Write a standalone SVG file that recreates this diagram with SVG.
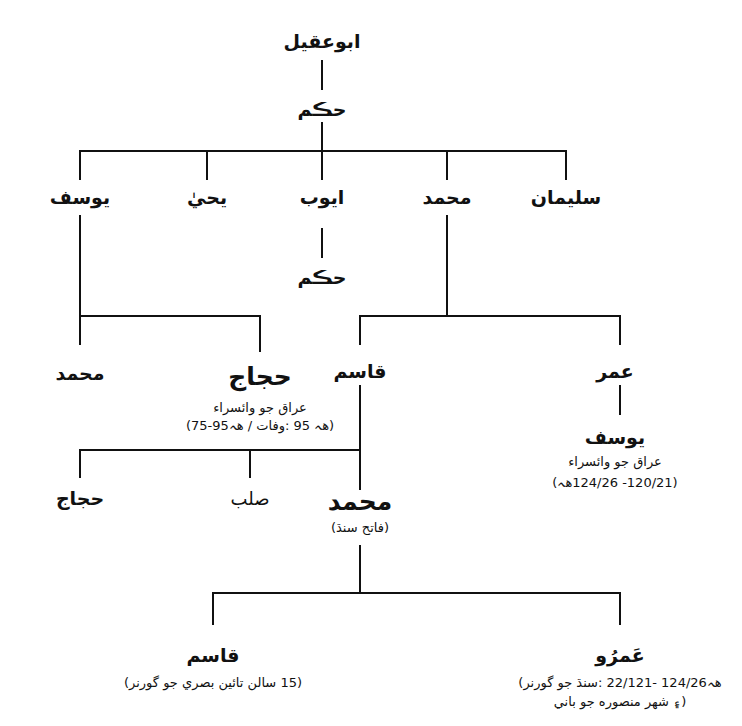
<svg xmlns="http://www.w3.org/2000/svg" width="742" height="726" viewBox="0 0 742 726">
<style>
text{font-family:"DejaVu Sans","Noto Sans",sans-serif;text-anchor:middle;fill:#111;direction:rtl;unicode-bidi:embed}
.b{font-weight:bold;font-size:19px}
.n{font-size:18px}
.L{font-weight:bold;font-size:25px}
.s{font-size:13px}
.ltr{direction:ltr}
#c line{stroke:#111;stroke-width:2}
</style>
<rect width="742" height="726" fill="#fff"/>
<g id="c">
<line x1="322" y1="60" x2="322" y2="90"/>
<line x1="322" y1="122" x2="322" y2="151"/>
<line x1="79" y1="151" x2="567" y2="151"/>
<line x1="80" y1="150" x2="80" y2="180"/>
<line x1="207" y1="150" x2="207" y2="180"/>
<line x1="322" y1="150" x2="322" y2="180"/>
<line x1="447" y1="150" x2="447" y2="180"/>
<line x1="566" y1="150" x2="566" y2="180"/>
<line x1="322" y1="228" x2="322" y2="258"/>
<line x1="80" y1="215" x2="80" y2="345"/>
<line x1="79" y1="316" x2="261" y2="316"/>
<line x1="260" y1="316" x2="260" y2="352"/>
<line x1="447" y1="215" x2="447" y2="316"/>
<line x1="359" y1="316" x2="621" y2="316"/>
<line x1="360" y1="316" x2="360" y2="345"/>
<line x1="620" y1="316" x2="620" y2="345"/>
<line x1="620" y1="385" x2="620" y2="415"/>
<line x1="360" y1="385" x2="360" y2="490"/>
<line x1="79" y1="450" x2="361" y2="450"/>
<line x1="80" y1="450" x2="80" y2="478"/>
<line x1="250" y1="450" x2="250" y2="478"/>
<line x1="360" y1="545" x2="360" y2="593"/>
<line x1="212" y1="593" x2="621" y2="593"/>
<line x1="213" y1="593" x2="213" y2="625"/>
<line x1="620" y1="593" x2="620" y2="625"/>
</g>
<g id="n1"><text class="b" x="322" y="48">ابوعقيل</text></g>
<g id="n2"><text class="b" x="322" y="116">حڪم</text></g>
<g id="n3"><text class="b" x="80" y="204">يوسف</text></g>
<g id="n4"><text class="b" x="207" y="204">يحيٰ</text></g>
<g id="n5"><text class="b" x="322" y="204">ايوب</text></g>
<g id="n6"><text class="b" x="447" y="204">محمد</text></g>
<g id="n7"><text class="b" x="566" y="204">سليمان</text></g>
<g id="n8"><text class="b" x="322" y="284">حڪم</text></g>
<g id="n9"><text class="b" x="80" y="380">محمد</text></g>
<g id="n10"><text class="L" x="260" y="385">حجاج</text><text class="s" x="260" y="412">عراق جو وائسراء</text><text class="s ltr" x="260" y="430">(75-95&#x2067;هہ&#x2069; / &#x2067;وفات&#x2069;: 95 &#x2067;هہ&#x2069;)</text></g>
<g id="n11"><text class="b" x="360" y="378">قاسم</text></g>
<g id="n12"><text class="b" x="615" y="378">عمر</text></g>
<g id="n13"><text class="b" x="615" y="444">يوسف</text><text class="s" x="615" y="466">عراق جو وائسراء</text><text class="s" x="615" y="487">(120/21- 124/26هہ)</text></g>
<g id="n14"><text class="b" x="80" y="505">حجاج</text></g>
<g id="n15"><text class="n" x="250" y="505">صلب</text></g>
<g id="n16"><text class="L" x="360" y="510">محمد</text><text class="s" x="360" y="532">(فاتح سنڌ)</text></g>
<g id="n17"><text class="b" x="213" y="662">قاسم</text><text class="s" x="213" y="687">(15 سالن تائين بصري جو گورنر)</text></g>
<g id="n18"><text class="b" x="620" y="662">عَمرُو</text><text class="s ltr" x="620" y="687">(&#x2067;سنڌ جو گورنر&#x2069;: 22/121- 124/26&#x2067;هہ&#x2069;</text><text class="s ltr" x="620" y="706">&#x2067;۽ شهر منصوره جو باني&#x2069;)</text></g>
</svg>
